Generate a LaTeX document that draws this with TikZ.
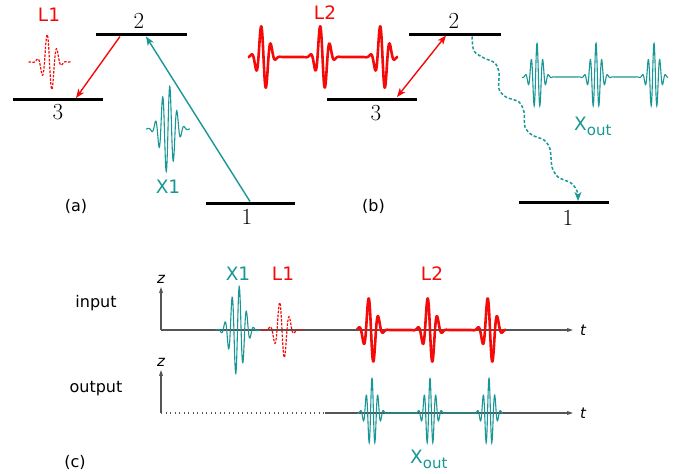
\documentclass[tikz,border=0pt]{standalone}
\usepackage{fontspec}
\newfontfamily\dv{DejaVu Sans}
\usetikzlibrary{arrows.meta}
\definecolor{myred}{RGB}{245,10,10}
\definecolor{myteal}{RGB}{25,150,150}
\definecolor{axgray}{RGB}{85,85,85}
\begin{document}
\begin{tikzpicture}[x=1pt,y=-1pt,
  declare function={
    gss(\u,\s)=exp(-min((\u/\s)^2,30));
    lpk(\u)=-gss(\u,7.5)*sin(36*\u);
    lone(\u)=-gss(\u,8)*sin(36*\u);
    xpk(\u)=gss(\u,9.5)*sin(50*\u);
    xo(\u)=gss(\u,7)*cos(62*\u);
  },
  level/.style={line width=3pt, black},
  lab/.style={font=\dv\fontsize{18.5}{20}\selectfont, inner sep=0pt},
  num/.style={font=\fontsize{23}{24}\selectfont, inner sep=0pt},
  small/.style={font=\dv\fontsize{16}{18}\selectfont, inner sep=0pt},
  axlab/.style={font=\dv\itshape\fontsize{15}{16}\selectfont, inner sep=0pt},
  redarr/.style={myred, line width=1.4pt, -{Stealth[length=9pt,width=7pt,inset=2.5pt]}},
  tealarr/.style={myteal, line width=1.4pt, -{Stealth[length=9pt,width=7pt,inset=2.5pt]}},
  axis/.style={axgray, line width=1.3pt, -{Stealth[length=6pt,width=4pt,inset=1pt]}},
  xwave/.style={myteal, line width=1.1pt},
  lwave/.style={myred, line width=2.6pt, line join=round},
  ldash/.style={myred, line width=1.2pt, dash pattern=on 2.5pt off 1.4pt},
]
\useasboundingbox (0,0) rectangle (678,474);

% ---------------- panel (a) ----------------
\coordinate (a2L) at (96,34.5);  \coordinate (a2R) at (187,34.5);
\coordinate (a3L) at (13,99.5);  \coordinate (a3R) at (103,99.5);
\coordinate (a1L) at (206,203);  \coordinate (a1R) at (295,203);
\draw[level] (a2L) -- (a2R);
\draw[level] (a3L) -- (a3R);
\draw[level] (a1L) -- (a1R);
\node[num] (a2n) at (139,21) {2};
\node[num] (a3n) at (58,112) {3};
\node[num] (a1n) at (247,217) {1};
\coordinate (a2s) at (120,36.5); \coordinate (a3e) at (76,98);
\draw[redarr] (a2s) -- (a3e);
\coordinate (a1s) at (250,201.5); \coordinate (a2e) at (146,36.5);
\draw[tealarr] (a1s) -- (a2e);
\draw[ldash] plot[domain=-21:21, samples=160] ({49.5+\x},{62-30*lone(\x)});
\node[lab, myred] (aL1) at (49,15) {L1};
\draw[xwave] plot[domain=-22:22, samples=220] ({168+\x},{129-44*xpk(\x)});
\node[lab, myteal] (aX1) at (168,187) {X1};
\node[small] (alab) at (76,206) {(a)};

% ---------------- panel (b) ----------------
\coordinate (b2L) at (409,34);  \coordinate (b2R) at (501,34);
\coordinate (b3L) at (327,99);  \coordinate (b3R) at (417,99);
\coordinate (b1L) at (519,202.5); \coordinate (b1R) at (609,202.5);
\draw[level] (b2L) -- (b2R);
\draw[level] (b3L) -- (b3R);
\draw[level] (b1L) -- (b1R);
\node[num] (b2n) at (454,21) {2};
\node[num] (b3n) at (376,113) {3};
\node[num] (b1n) at (568,218) {1};
\coordinate (b3e) at (397,97); \coordinate (b2e) at (446,35.5);
\draw[myred, line width=1.4pt, {Stealth[length=9pt,width=7pt,inset=2.5pt]}-{Stealth[length=9pt,width=7pt,inset=2.5pt]}] (b3e) -- (b2e);
\coordinate (b2s) at (472,36.5); \coordinate (b1e) at (578,201);
\draw[myteal, line width=1.5pt, dash pattern=on 3pt off 2pt, -{Stealth[length=9pt,width=7pt,inset=2.5pt]}]
  plot[smooth, tension=0.5] coordinates {(b2s) (474,51) (484,58) (495,63) (499,73) (499,89) (506,97) (519,102) (524,112) (525,127) (532,135) (544,140) (550,149) (552,167) (558,177) (571,183) (577,191) (b1e)};
\draw[lwave] plot[domain=248:398, samples=500] (\x,{57-34*(lpk(\x-263.5)+lpk(\x-322.5)+lpk(\x-382.5))});
\node[lab, myred] (bL2) at (325,13) {L2};
\draw[xwave] plot[domain=522:668, samples=600] (\x,{77-34*(xo(\x-537)+xo(\x-596)+xo(\x-654))});
\node[lab, myteal, anchor=base west] (bXo) at (574,130) {X\raisebox{-0.28em}{\fontsize{15}{15}\selectfont out}};
\node[small] (blab) at (373.5,206) {(b)};

% ---------------- panel (c) ----------------
\coordinate (o1) at (161,330);
\coordinate (z1) at (161,287);
\coordinate (t1) at (573,330);
\draw[axis] (o1) -- (z1);
\draw[axis] (o1) -- (t1);
\node[axlab] (z1l) at (161,279) {z};
\node[axlab] (t1l) at (583,330) {t};
\node[small, anchor=base] (inp) at (96,307) {input};

\coordinate (o2) at (161,413);
\coordinate (z2) at (161,370);
\coordinate (m2) at (325,413);
\coordinate (t2) at (573,413);
\draw[axis] (o2) -- (z2);
\draw[axgray, line width=1.3pt, dash pattern=on 1.3pt off 3.2pt] (o2) -- (m2);
\draw[axis] (m2) -- (t2);
\node[axlab] (z2l) at (161,362) {z};
\node[axlab] (t2l) at (583,413) {t};
\node[small, anchor=base] (outp) at (96,392) {output};

\draw[xwave] plot[domain=-22:22, samples=220] ({237.5+\x},{330-45*xpk(\x)});
\node[lab, myteal] (cX1) at (238,274) {X1};
\draw[ldash] plot[domain=-21:21, samples=160] ({282+\x},{330-30*lone(\x)});
\node[lab, myred] (cL1) at (283,274) {L1};
\draw[lwave] plot[domain=357:506, samples=500] (\x,{330-35*(lpk(\x-371)+lpk(\x-430)+lpk(\x-490))});
\node[lab, myred] (cL2) at (432,274) {L2};
\draw[xwave] plot[domain=357:503, samples=600] (\x,{413-35*(xo(\x-372)+xo(\x-430)+xo(\x-489))});
\node[lab, myteal, anchor=base west] (cXo) at (410,463) {X\raisebox{-0.28em}{\fontsize{15}{15}\selectfont out}};
\node[small] (clab) at (75,462) {(c)};
\end{tikzpicture}
\end{document}
